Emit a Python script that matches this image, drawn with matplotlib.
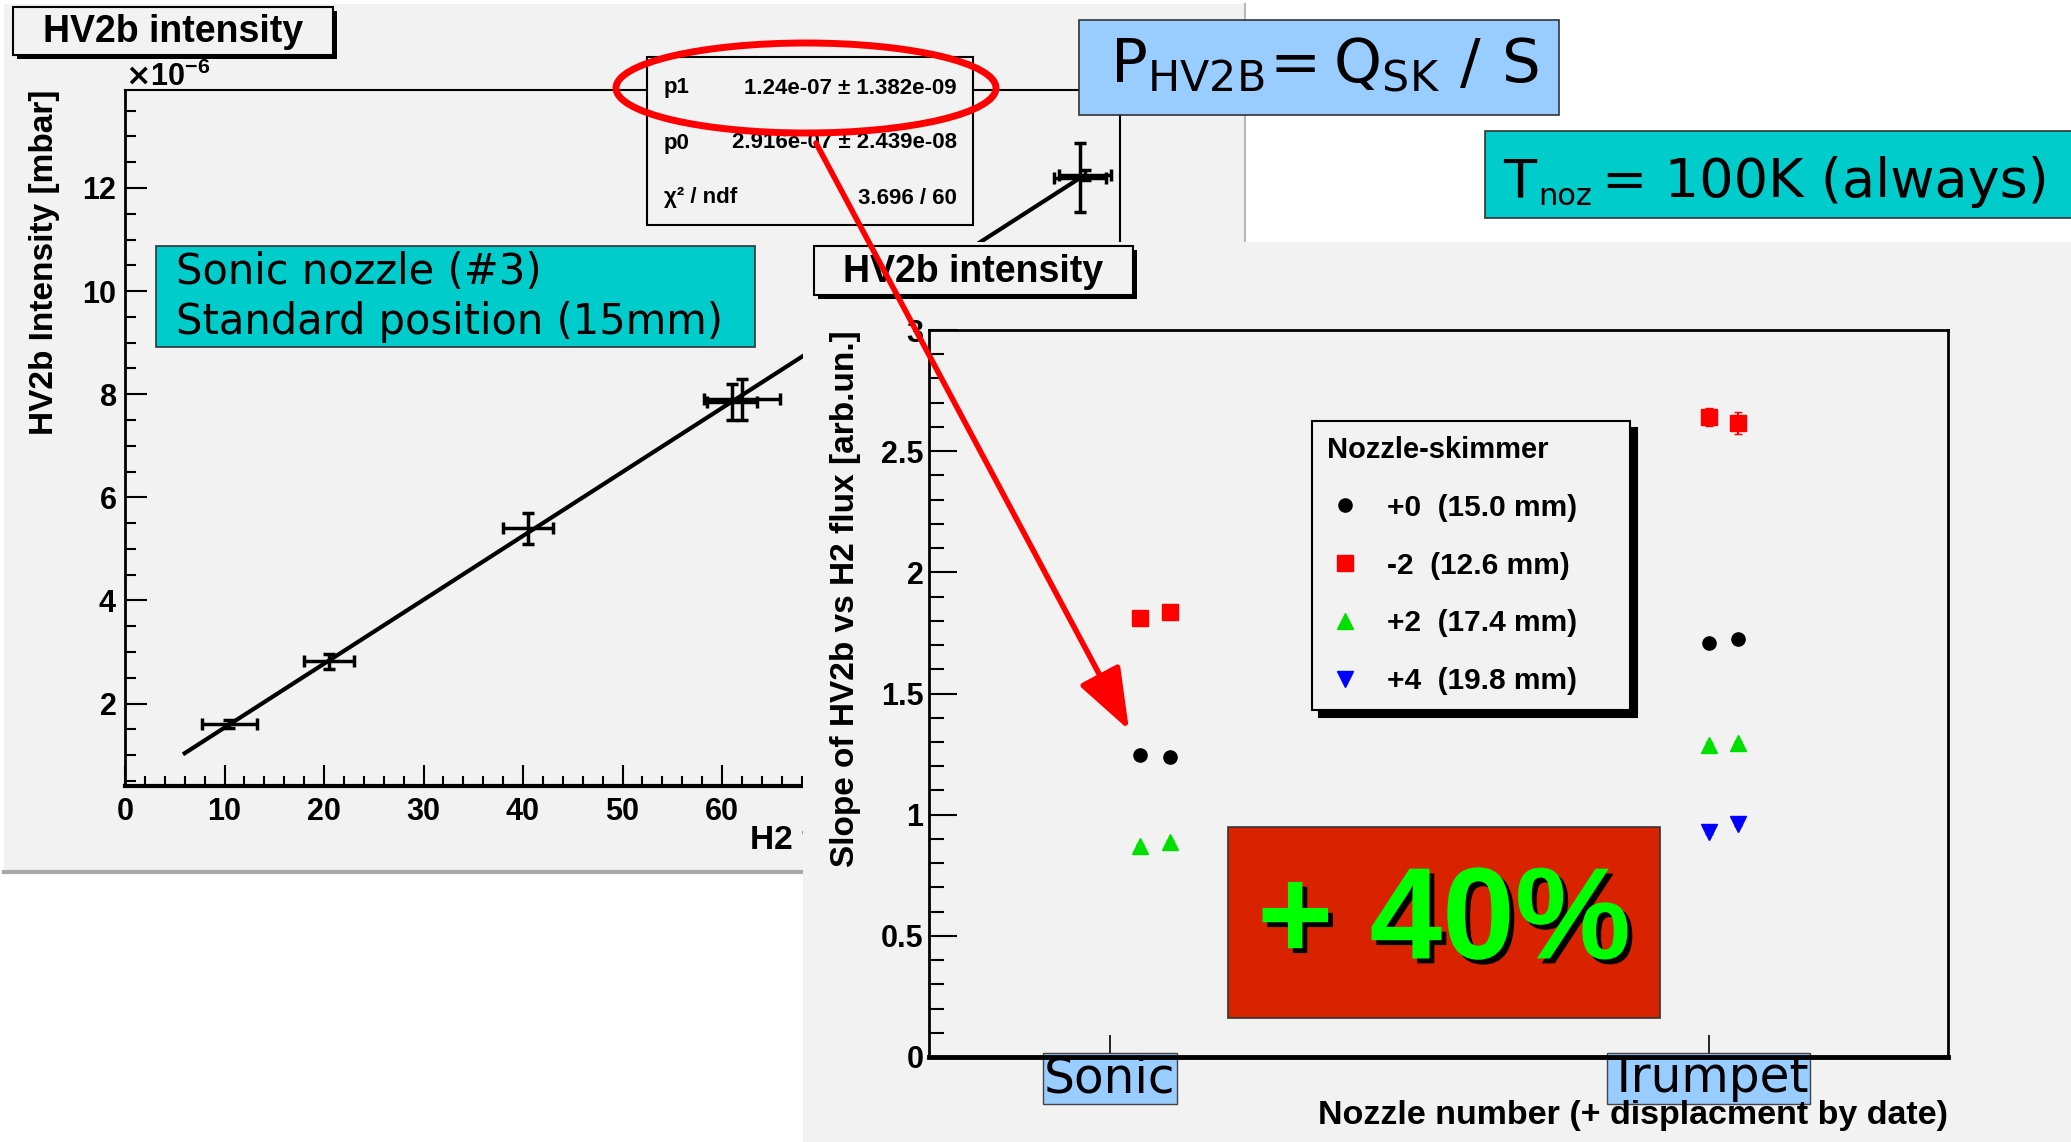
import numpy as np
import matplotlib
matplotlib.use("Agg")
import matplotlib.pyplot as plt
from matplotlib.patches import Rectangle, Ellipse
from matplotlib.ticker import MultipleLocator, FixedLocator, FuncFormatter
import matplotlib.patheffects as pe

W, H, DPI = 2071, 1142, 100
ROOT_FONT = ['Liberation Sans', 'DejaVu Sans']
SLIDE_FONT = ['DejaVu Sans']
PANEL = '#f2f2f2'

# left plot: HV2b intensity vs H2 flux (sonic nozzle #3)
flux = [10.5, 20.5, 40.5, 61.0, 62.0, 96.0, 96.5]
flux_err = [2.8, 2.5, 2.5, 2.5, 3.8, 2.6, 2.6]
hv2b = [1.60e-6, 2.82e-6, 5.40e-6, 7.85e-6, 7.90e-6, 12.20e-6, 12.25e-6]
hv2b_err = [0.08e-6, 0.15e-6, 0.30e-6, 0.35e-6, 0.40e-6, 0.67e-6, 0.10e-6]
fit_p0 = 2.916e-07
fit_p1 = 1.24e-07
fit_from, fit_to = 6.0, 96.0
stats_names = ['p1', 'p0', 'χ² / ndf']
stats_values = ['1.24e-07 ± 1.382e-09', '2.916e-07 ± 2.439e-08', '3.696 / 60']

# right plot: slope per nozzle and nozzle-skimmer distance
nozzles = ['Sonic', 'Trumpet']
nozzle_pos = [1, 2]
series_names = ['+0  (15.0 mm)', '-2  (12.6 mm)', '+2  (17.4 mm)', '+4  (19.8 mm)']
series_x = [[1.05, 1.10, 2.00, 2.05],
            [1.05, 1.10, 2.00, 2.05],
            [1.05, 1.10, 2.00, 2.05],
            [2.00, 2.05]]
series_y = [[1.246, 1.238, 1.709, 1.725],
            [1.812, 1.836, 2.641, 2.616],
            [0.871, 0.887, 1.288, 1.296],
            [0.929, 0.962]]
series_err = [[0.01, 0.01, 0.015, 0.015],
              [0.01, 0.01, 0.037, 0.045],
              [0.01, 0.01, 0.01, 0.01],
              [0.01, 0.01]]
series_color = ['black', 'red', '#00e000', 'blue']
series_marker = ['o', 's', '^', 'v']
series_size = [9.5, 11, 11, 11]

plt.rcParams['font.family'] = ROOT_FONT
plt.rcParams['font.weight'] = 'bold'
plt.rcParams['axes.labelweight'] = 'bold'

fig = plt.figure(figsize=(W / DPI, H / DPI), dpi=DPI)


def canvas(z):
    ax = fig.add_axes([0, 0, 1, 1], zorder=z)
    ax.set_xlim(0, W)
    ax.set_ylim(H, 0)
    ax.axis('off')
    return ax


def frac(x0, y0, x1, y1):
    return [x0 / W, 1 - y1 / H, (x1 - x0) / W, (y1 - y0) / H]


def title_box(ax, x0, y0, x1, y1, text):
    ax.add_patch(Rectangle((x0 + 4, y0 + 4), x1 - x0, y1 - y0, fc='black', ec='none'))
    ax.add_patch(Rectangle((x0, y0), x1 - x0, y1 - y0, fc=PANEL, ec='black', lw=1.5))
    ax.text((x0 + x1) / 2, (y0 + y1) / 2 + 1, text, ha='center', va='center',
            fontsize=27, fontweight='bold')


def slide_box(ax, x0, y0, x1, y1, color):
    ax.add_patch(Rectangle((x0, y0), x1 - x0, y1 - y0, fc=color, ec='#333333', lw=1.2))


def slide_text(ax, x, y, s, size, va='center'):
    ax.text(x, y, s, ha='left', va=va, fontsize=size, family=SLIDE_FONT,
            fontweight='normal')


# --- bottom layer: left ROOT canvas
bg = canvas(0)
bg.add_patch(Rectangle((4, 4), 1241, 868, fc=PANEL, ec='none'))
bg.plot([1245, 1245], [4, 872], color='#b8b8b8', lw=1.5)
bg.plot([4, 1245], [872, 872], color='#a8a8a8', lw=3)
title_box(bg, 13, 7, 333, 55, 'HV2b intensity')

# --- left plot
axl = fig.add_axes(frac(125, 90, 1120, 786), zorder=1)
axl.set_facecolor('none')
axl.errorbar(flux, hv2b, xerr=flux_err, yerr=hv2b_err, fmt='none', ecolor='black',
             elinewidth=2.5, capsize=4, capthick=2.5)
fit_x = np.array([fit_from, fit_to])
axl.plot(fit_x, fit_p0 + fit_p1 * fit_x, color='black', lw=3)
axl.set_xlim(0, 100)
axl.set_ylim(0.4e-6, 13.9e-6)
axl.xaxis.set_major_locator(MultipleLocator(10))
axl.xaxis.set_minor_locator(MultipleLocator(2))
axl.yaxis.set_major_locator(MultipleLocator(2e-6))
axl.yaxis.set_minor_locator(MultipleLocator(0.5e-6))
axl.ticklabel_format(axis='y', style='sci', scilimits=(-6, -6), useMathText=True)
axl.tick_params(axis='both', which='both', direction='in', top=False, right=False,
                width=1.5, labelsize=22)
axl.tick_params(axis='y', which='major', length=16, pad=6)
axl.tick_params(axis='y', which='minor', length=8)
axl.tick_params(axis='x', which='major', length=15, pad=8)
axl.tick_params(axis='x', which='minor', length=7)
axl.yaxis.get_offset_text().set_fontsize(22)
for side, lw in [('left', 2), ('bottom', 3), ('top', 1.5), ('right', 1.5)]:
    axl.spines[side].set_linewidth(lw)
axl.set_ylabel('HV2b Intensity [mbar]', fontsize=24)
axl.yaxis.set_label_coords(-0.081, 1.0)
axl.yaxis.label.set_horizontalalignment('right')
axl.yaxis.label.set_verticalalignment('center')
axl.set_xlabel('H2 flux [mbar l/s]', fontsize=24)
axl.xaxis.set_label_coords(0.628, -0.078)
axl.xaxis.label.set_horizontalalignment('left')
axl.xaxis.label.set_verticalalignment('center')

# --- middle layer: fit box, slide boxes, right ROOT canvas
mid = canvas(2)
mid.add_patch(Rectangle((647, 57), 326, 168, fc=PANEL, ec='black', lw=1.5))
for i, (name, val) in enumerate(zip(stats_names, stats_values)):
    y = 88 + i * 55
    mid.text(664, y, name, ha='left', va='center', fontsize=16)
    mid.text(957, y, val, ha='right', va='center', fontsize=16)

slide_box(mid, 156, 246, 755, 347, '#00cccc')
slide_text(mid, 176, 272, 'Sonic nozzle (#3)', 30)
slide_text(mid, 176, 322, 'Standard position (15mm)', 30)

mid.add_patch(Rectangle((803, 242), W - 803, H - 242, fc=PANEL, ec='none'))
title_box(mid, 814, 246, 1133, 295, 'HV2b intensity')

slide_box(mid, 1079, 20, 1559, 115, '#99ccff')
slide_text(mid, 1110, 66, r'$\mathregular{P_{HV2B}\!= Q_{SK}\ /\ S}$', 44)
slide_box(mid, 1485, 131, W + 5, 218, '#00cccc')
slide_text(mid, 1503, 197, 'T', 39, va='baseline')
slide_text(mid, 1538, 205, 'noz', 22, va='baseline')
slide_text(mid, 1602, 197, '= 100K (always)', 39, va='baseline')

# --- right plot
axr = fig.add_axes(frac(929, 330, 1948, 1057), zorder=3)
axr.set_facecolor('none')
handles = []
for xs, ys, es, c, m, s, name in zip(series_x, series_y, series_err, series_color,
                                      series_marker, series_size, series_names):
    axr.errorbar(xs, ys, yerr=es, fmt='none', ecolor=c, elinewidth=1.5, capsize=3)
    h, = axr.plot(xs, ys, ls='none', marker=m, ms=s, color=c, mec=c, label=name)
    handles.append(h)
axr.set_xlim(0.698, 2.40)
axr.set_ylim(0, 3)
axr.xaxis.set_major_locator(FixedLocator(nozzle_pos))
axr.set_xticklabels(nozzles)
axr.yaxis.set_major_locator(MultipleLocator(0.5))
axr.yaxis.set_minor_locator(MultipleLocator(0.1))
axr.yaxis.set_major_formatter(FuncFormatter(lambda v, p: f'{v:g}'))
axr.tick_params(axis='y', which='both', direction='in', right=False, width=1.5,
                labelsize=22)
axr.tick_params(axis='y', which='major', length=20, pad=4)
axr.tick_params(axis='y', which='minor', length=11)
axr.tick_params(axis='x', which='major', direction='in', top=False, length=16,
                width=1.2, pad=-2)
for lab in axr.get_xticklabels():
    lab.set_fontfamily(SLIDE_FONT)
    lab.set_fontweight('normal')
    lab.set_fontsize(35)
    lab.set_bbox(dict(fc='#99ccff', ec='#444444', lw=1, pad=1))
for side, lw in [('left', 2), ('bottom', 3.5), ('top', 2), ('right', 2)]:
    axr.spines[side].set_linewidth(lw)
axr.set_ylabel('Slope of HV2b vs H2 flux [arb.un.]', fontsize=24)
axr.yaxis.set_label_coords(-0.0824, 1.0)
axr.yaxis.label.set_horizontalalignment('right')
axr.yaxis.label.set_verticalalignment('center')
axr.set_xlabel('Nozzle number (+ displacment by date)', fontsize=24.5)
axr.xaxis.set_label_coords(1.0, -0.08)
axr.xaxis.label.set_horizontalalignment('right')
axr.xaxis.label.set_verticalalignment('center')

leg = axr.legend(handles=handles, title='Nozzle-skimmer', loc='upper left',
                 bbox_to_anchor=(0.376, 0.475, 0.312, 0.4), mode='expand',
                 fontsize=21.5,
                 title_fontproperties={'weight': 'bold', 'size': 21},
                 alignment='left', frameon=True, fancybox=False, edgecolor='black',
                 facecolor=PANEL, framealpha=1, borderpad=0.5,
                 labelspacing=1.0, handletextpad=0.8, handlelength=1.2,
                 borderaxespad=0,
                 shadow={'color': 'black', 'alpha': 1, 'ox': 5, 'oy': -5})
leg.get_frame().set_linewidth(1.5)

# --- top layer: highlight ellipse, arrow, +40% label
top = canvas(4)
top.add_patch(Ellipse((806, 88), 380, 90, fill=False, ec='red', lw=5))
top.annotate('', xy=(1129, 730), xytext=(816, 143),
             arrowprops=dict(arrowstyle='-|>,head_length=1.9,head_width=0.7',
                             color='red', lw=4, mutation_scale=20,
                             shrinkA=0, shrinkB=0))
top.add_patch(Rectangle((1228, 827), 432, 191, fc='#d92200', ec='#333333', lw=1.2))
top.text(1444, 924, '+ 40%', ha='center', va='center', fontsize=94, fontweight='bold',
         color='#00ff00',
         path_effects=[pe.SimplePatchShadow(offset=(3.5, -3.5), shadow_rgbFace='black',
                                            alpha=1),
                       pe.Normal()])

fig.savefig('out.png', dpi=DPI)
